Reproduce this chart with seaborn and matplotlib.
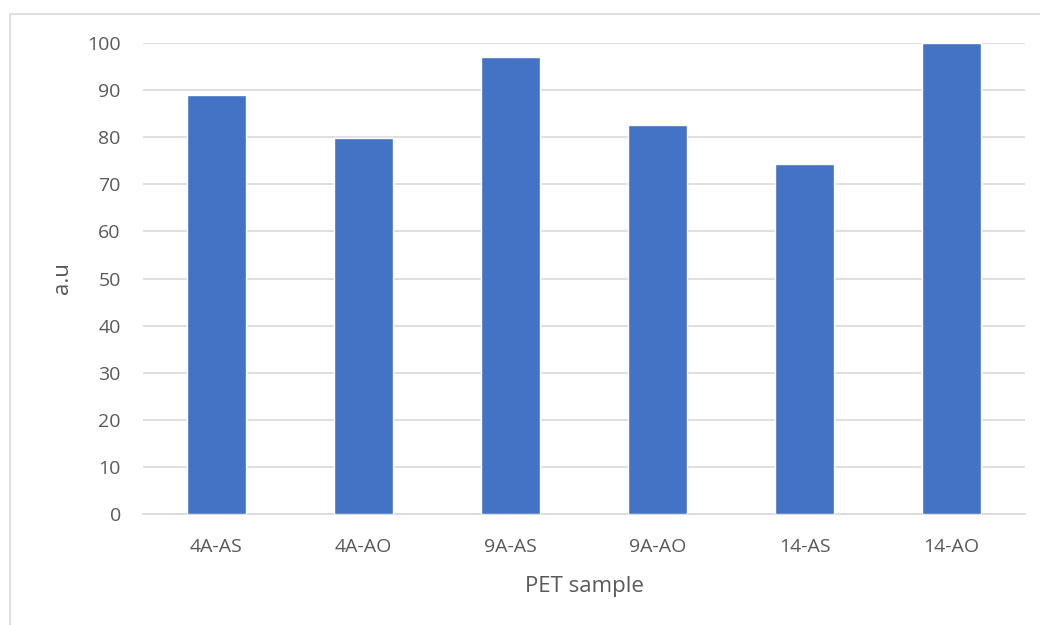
import matplotlib
matplotlib.use("Agg")
import matplotlib.pyplot as plt
import seaborn as sns
import pandas as pd
from matplotlib.lines import Line2D

categories = ["4A-AS", "4A-AO", "9A-AS", "9A-AO", "14-AS", "14-AO"]
values = [88.9, 79.9, 97.0, 82.5, 74.4, 100.0]
yticks = list(range(0, 101, 10))

sns.set_theme(style="white")
plt.rcParams["font.family"] = ["Open Sans", "DejaVu Sans"]

df = pd.DataFrame({"sample": categories, "value": values})

fig = plt.figure(figsize=(10.4, 6.25), dpi=100)
ax = fig.add_axes([143 / 1040, 1 - 514 / 625, (1025 - 143) / 1040, (514 - 43) / 625])

sns.barplot(data=df, x="sample", y="value", color="#4472C4", saturation=1,
            width=0.4, ax=ax, zorder=3)

ax.set_ylim(0, 100)
ax.set_xlim(-0.5, 5.5)
ax.set_yticks(yticks)
ax.set_yticklabels([str(t) for t in yticks])
ax.grid(axis="y", color="#d9d9d9", linewidth=1.2, zorder=0)
ax.grid(axis="x", visible=False)
for s in ["top", "right", "left"]:
    ax.spines[s].set_visible(False)
ax.spines["bottom"].set_color("#d9d9d9")
ax.spines["bottom"].set_linewidth(1.2)
ax.tick_params(axis="both", length=0, labelsize=14, labelcolor="#595959")
ax.tick_params(axis="y", pad=16)
ax.tick_params(axis="x", pad=17)
ax.set_xlabel("PET sample", fontsize=16, color="#595959", labelpad=15)
ax.set_ylabel("a.u", fontsize=16, color="#595959", labelpad=10)

# chart-area border (partially visible in reference)
fig.add_artist(Line2D([10 / 1040, 10 / 1040], [0, 1 - 14 / 625], transform=fig.transFigure,
                      color="#d9d9d9", linewidth=1.2))
fig.add_artist(Line2D([10 / 1040, 1], [1 - 14 / 625, 1 - 14 / 625], transform=fig.transFigure,
                      color="#d9d9d9", linewidth=1.2))

fig.savefig("out.png", dpi=100, facecolor="white")
